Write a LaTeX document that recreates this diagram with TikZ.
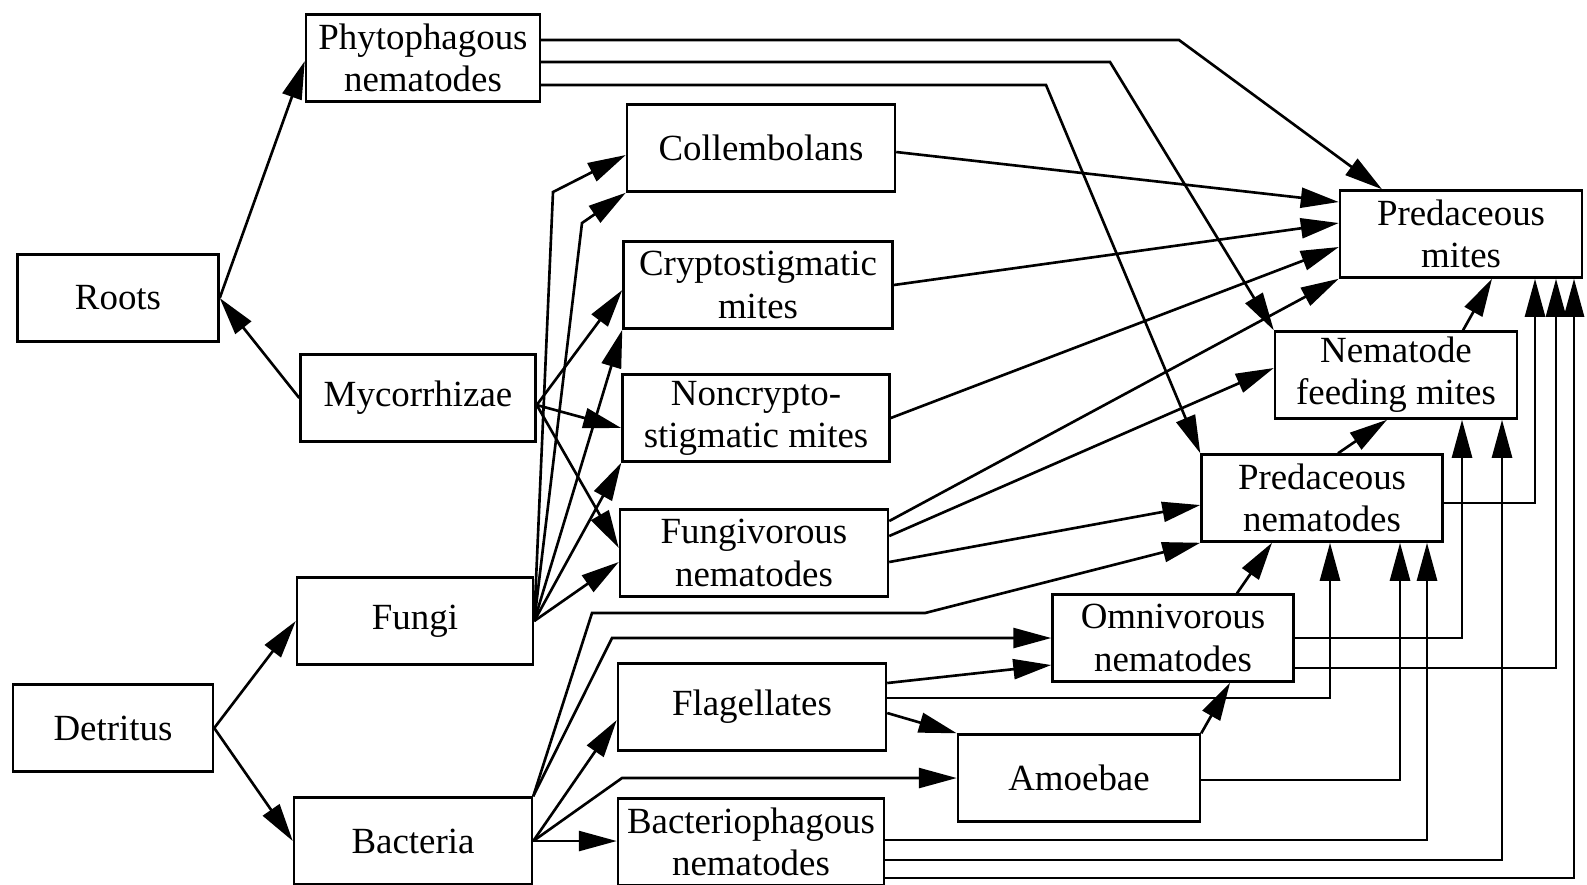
\documentclass[tikz,border=0pt]{standalone}
\usepackage{fontspec}
\setmainfont{Liberation Serif}
\usetikzlibrary{arrows.meta}

\begin{document}
\begin{tikzpicture}[
  x=0.1mm, y=-0.1mm,
  grp/.style={draw, line width=0.7pt, align=center, minimum height=8.7mm, inner sep=0pt,
              font=\fontsize{10.5}{12}\selectfont},
  feed/.style={-{Triangle[length=3.8mm,width=2mm]}, line width=0.75pt}
]
  \useasboundingbox (0,0) rectangle (1587,884);

  % sources
  \node[grp, minimum width=20.1mm] (roots) at (118,298) {Roots};
  \node[grp, minimum width=20.0mm] (detritus) at (113,728) {Detritus};
  \node[grp, minimum width=23.4mm] (phyto) at (423,58) {Phytophagous\\nematodes};
  \node[grp, minimum width=23.5mm] (myco) at (418,398) {Mycorrhizae};
  \node[grp, minimum width=23.6mm] (fungi) at (415,621) {Fungi};
  \node[grp, minimum width=23.8mm] (bacteria) at (413,841) {Bacteria};

  % grazers
  \node[grp, minimum width=26.8mm] (collemb) at (761,148) {Collembolans};
  \node[grp, minimum width=26.9mm] (crypto) at (758,285) {Cryptostigmatic\\mites};
  \node[grp, minimum width=26.7mm] (noncrypto) at (756,418) {Noncrypto-\\stigmatic mites};
  \node[grp, minimum width=26.8mm] (fungivor) at (754,553) {Fungivorous\\nematodes};
  \node[grp, minimum width=26.8mm] (flagel) at (752,707) {Flagellates};
  \node[grp, minimum width=26.6mm] (bacterioph) at (751,842) {Bacteriophagous\\nematodes};
  \node[grp, minimum width=24.2mm] (amoebae) at (1079,778) {Amoebae};
  \node[grp, minimum width=24.1mm] (omniv) at (1173,638) {Omnivorous\\nematodes};

  % predators
  \node[grp, minimum width=24.1mm] (prednem) at (1322,498) {Predaceous\\nematodes};
  \node[grp, minimum width=24.2mm] (nfm) at (1396,375) {Nematode\\feeding mites};
  \node[grp, minimum width=24.2mm] (predmites) at (1461,234) {Predaceous\\mites};

  % bend points
  \coordinate (p1) at (1179,40);
  \coordinate (p2) at (1110,62);
  \coordinate (p3) at (1046,85);
  \coordinate (c1) at (553,192);
  \coordinate (c2) at (582,223);
  \coordinate (b1) at (592,613);
  \coordinate (b2) at (925,613);
  \coordinate (b3) at (612,638);
  \coordinate (b4) at (622,778);

  \draw[feed] (roots.east) -- ([yshift=-0.3mm]phyto.west);
  \draw[feed] (myco.west) -- (roots.east);
  \draw[feed] (detritus.east) -- (fungi.west);
  \draw[feed] (detritus.east) -- (bacteria.west);

  \draw[feed] ([yshift=-0.7mm]myco.east) -- ([yshift=-0.5mm]crypto.west);
  \draw[feed] ([yshift=-0.7mm]myco.east) -- ([yshift=-1.0mm]noncrypto.west);
  \draw[feed] ([yshift=-0.7mm]myco.east) -- ([yshift=0.5mm]fungivor.west);

  \draw[feed] (fungi.east) -- (c1) -- ([yshift=-0.7mm]collemb.west);
  \draw[feed] (fungi.east) -- (c2) -- (collemb.south west);
  \draw[feed] (fungi.east) -- (crypto.south west);
  \draw[feed] (fungi.east) -- (noncrypto.south west);
  \draw[feed] (fungi.east) -- ([yshift=-0.9mm]fungivor.west);

  \draw[feed] (bacteria.north east) -- (b1) -- (b2) -- (prednem.south west);
  \draw[feed] (bacteria.north east) -- (b3) -- (b3 -| omniv.west);
  \draw[feed] (bacteria.east) -- ([yshift=-1.3mm]flagel.west);
  \draw[feed] (bacteria.east) -- (b4) -- (b4 -| amoebae.west);
  \draw[feed] (bacteria.east) -- (bacteria.east -| bacterioph.west);

  \draw[feed] (phyto.east |- p1) -- (p1) -- ([xshift=-7.9mm]predmites.north);
  \draw[feed] (phyto.east |- p2) -- (p2) -- (nfm.north west);
  \draw[feed] (phyto.east |- p3) -- (p3) -- (prednem.north west);

  \draw[feed] ([yshift=-0.4mm]collemb.east) -- ([yshift=3.2mm]predmites.west);
  \draw[feed] (crypto.east) -- ([yshift=1.1mm]predmites.west);
  \draw[feed] (noncrypto.east) -- ([yshift=-1.3mm]predmites.west);
  \draw[feed] ([yshift=3.2mm]fungivor.east) -- (predmites.south west);
  \draw[feed] ([yshift=1.7mm]fungivor.east) -- ([yshift=0.7mm]nfm.west);
  \draw[feed] ([yshift=-0.9mm]fungivor.east) -- ([yshift=-0.7mm]prednem.west);

  \draw[feed] ([yshift=2.4mm]flagel.east) -- ([yshift=-2.7mm]omniv.west);
  \draw[feed] ([yshift=0.9mm]flagel.east) -| ([xshift=0.8mm]prednem.south);
  \draw[feed] ([yshift=-0.6mm]flagel.east) -- (amoebae.north west);

  \draw[feed] (amoebae.north east) -- ([xshift=5.7mm]omniv.south);
  \draw[feed] ([yshift=-0.2mm]amoebae.east) -| ([xshift=7.8mm]prednem.south);

  \draw[feed] ([yshift=0.2mm]bacterioph.east) -| ([xshift=10.5mm]prednem.south);
  \draw[feed] ([yshift=-1.8mm]bacterioph.east) -| ([xshift=10.6mm]nfm.south);
  \draw[feed] ([yshift=-3.6mm]bacterioph.east) -| ([xshift=11.3mm]predmites.south);

  \draw[feed] (omniv.east) -| ([xshift=6.6mm]nfm.south);
  \draw[feed] ([yshift=-3.0mm]omniv.east) -| ([xshift=9.5mm]predmites.south);
  \draw[feed] ([xshift=6.4mm]omniv.north) -- ([xshift=-5.0mm]prednem.south);

  \draw[feed] ([xshift=1.6mm]prednem.north) -- ([xshift=-0.9mm]nfm.south);
  \draw[feed] ([yshift=-0.5mm]prednem.east) -| ([xshift=7.4mm]predmites.south);
  \draw[feed] ([xshift=6.7mm]nfm.north) -- ([xshift=3.1mm]predmites.south);
\end{tikzpicture}
\end{document}
